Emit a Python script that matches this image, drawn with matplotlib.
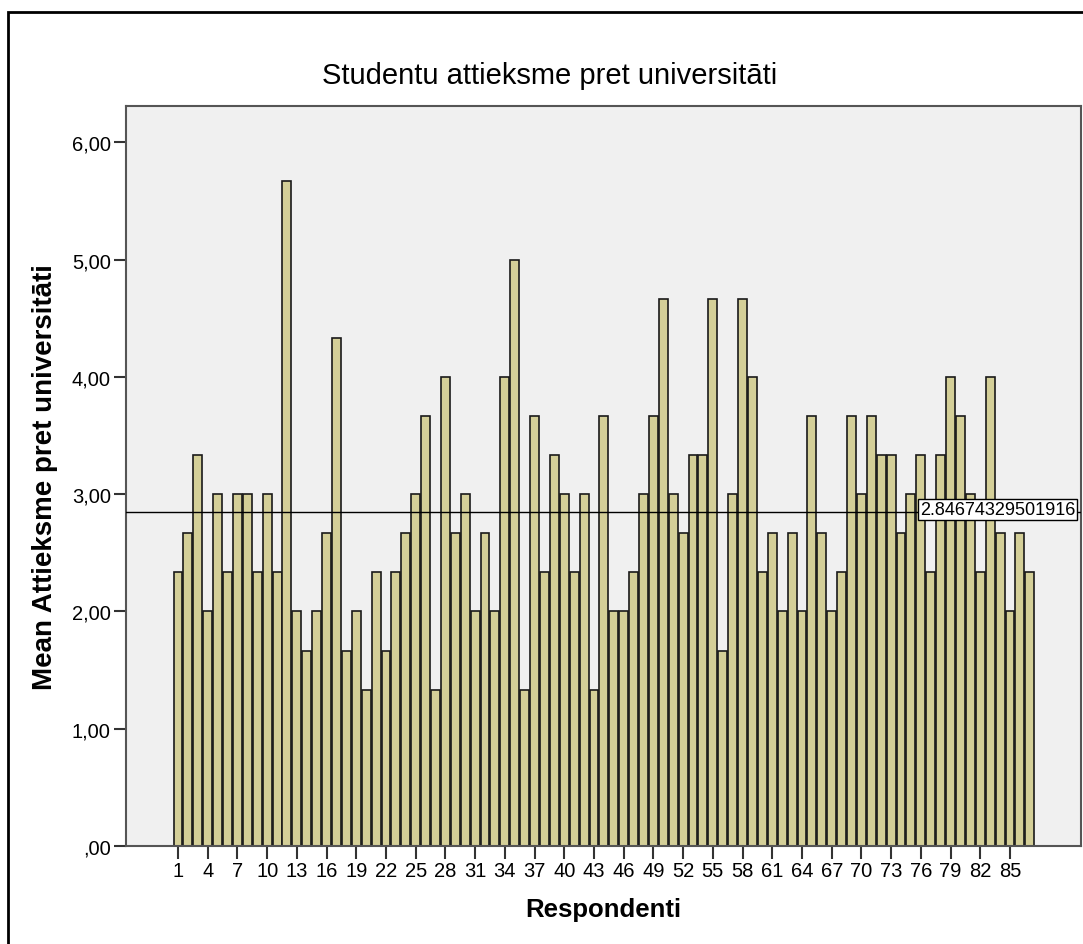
import numpy as np
import matplotlib.pyplot as plt
from matplotlib.patches import Rectangle

plt.rcParams['font.family'] = ['Liberation Sans', 'DejaVu Sans']

# mean score per respondent (values are thirds)
respondents = list(range(1, 88))
scores = [
    2.33, 2.67, 3.33, 2.00, 3.00, 2.33, 3.00, 3.00, 2.33, 3.00,
    2.33, 5.67, 2.00, 1.67, 2.00, 2.67, 4.33, 1.67, 2.00, 1.33,
    2.33, 1.67, 2.33, 2.67, 3.00, 3.67, 1.33, 4.00, 2.67, 3.00,
    2.00, 2.67, 2.00, 4.00, 5.00, 1.33, 3.67, 2.33, 3.33, 3.00,
    2.33, 3.00, 1.33, 3.67, 2.00, 2.00, 2.33, 3.00, 3.67, 4.67,
    3.00, 2.67, 3.33, 3.33, 4.67, 1.67, 3.00, 4.67, 4.00, 2.33,
    2.67, 2.00, 2.67, 2.00, 3.67, 2.67, 2.00, 2.33, 3.67, 3.00,
    3.67, 3.33, 3.33, 2.67, 3.00, 3.33, 2.33, 3.33, 4.00, 3.67,
    3.00, 2.33, 4.00, 2.67, 2.00, 2.67, 2.33,
]
# exact thirds
scores = [round(v * 3) / 3 for v in scores]
mean_value = np.mean(scores)

tick_pos = list(range(1, 88, 3))
y_ticks = [0, 1, 2, 3, 4, 5, 6]
y_tick_labels = [",00", "1,00", "2,00", "3,00", "4,00", "5,00", "6,00"]

fig = plt.figure(figsize=(10.83, 9.45), dpi=100)

# outer frame
fig.patches.append(Rectangle((8 / 1083, -0.1), 1.2, 1.1 - 13 / 945,
                             transform=fig.transFigure, fill=False,
                             edgecolor='black', linewidth=2))

ax = fig.add_axes([126 / 1083, 1 - 847 / 945, (1081 - 126) / 1083, (847 - 107) / 945])
ax.set_facecolor('#F0F0F0')

ax.bar(respondents, scores, width=0.9, color='#D4CF98',
       edgecolor='#1a1a1a', linewidth=1.2, zorder=2)

ax.axhline(mean_value, color='black', linewidth=1.0, zorder=3)
ax.text(75.9, mean_value + 0.02, f"{mean_value:.14f}", fontsize=13,
        ha='left', va='center', zorder=4,
        bbox=dict(boxstyle='square,pad=0.1', facecolor='white',
                  edgecolor='black', linewidth=1.0))

ax.set_xlim(-4.25, 92.17)
ax.set_ylim(0, 6.31)

ax.set_xticks(tick_pos)
ax.set_xticklabels([str(t) for t in tick_pos], fontsize=14.5)
ax.set_yticks(y_ticks)
ax.set_yticklabels(y_tick_labels, fontsize=14.5)
ax.tick_params(axis='both', length=9, width=1.5, color='#333333', pad=2)

for side in ['left', 'top', 'right', 'bottom']:
    ax.spines[side].set_color('#555555')
    ax.spines[side].set_linewidth(1.5)

ax.set_xlabel("Respondenti", fontsize=18.5, fontweight='bold', labelpad=12)
ax.set_ylabel("Mean Attieksme pret universitāti", fontsize=20,
              fontweight='bold', labelpad=10)

fig.text(550 / 1083, 1 - 76 / 945, "Studentu attieksme pret universitāti",
         fontsize=21, ha='center', va='center')

fig.savefig("out.png", dpi=100)
